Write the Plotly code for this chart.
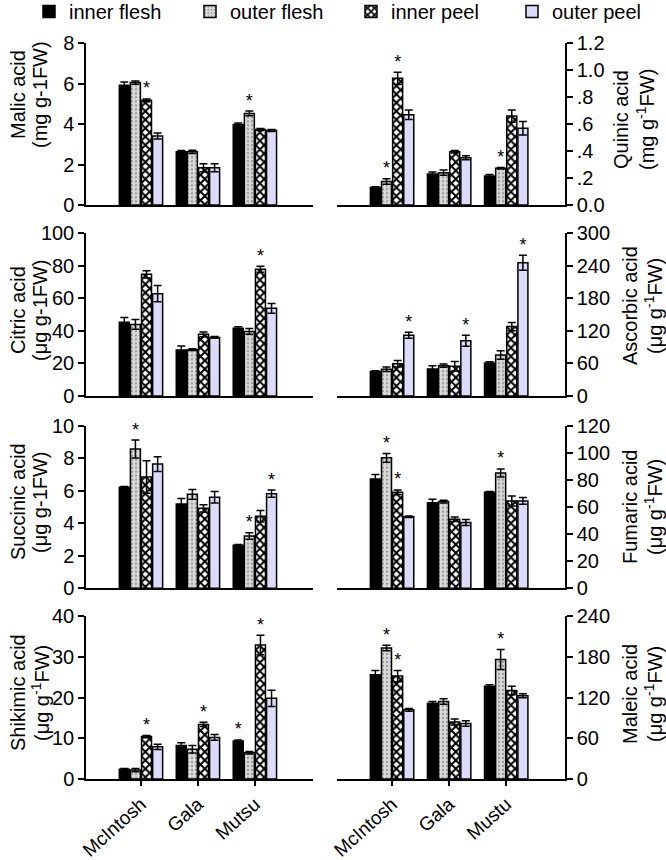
import plotly.graph_objects as go

series = ["inner flesh", "outer flesh", "inner peel", "outer peel"]
cult_left = ["McIntosh", "Gala", "Mutsu"]
cult_right = ["McIntosh", "Gala", "Mustu"]

# values: one row per series (inner flesh, outer flesh, inner peel, outer peel), columns = cultivars
malic_vals = [[5.93, 2.63, 3.98], [6.06, 2.63, 4.53], [5.18, 1.84, 3.73], [3.41, 1.84, 3.69]]
malic_err = [[0.15, 0.07, 0.08], [0.08, 0.08, 0.12], [0.07, 0.2, 0.05], [0.15, 0.2, 0.05]]
malic_star = [[0, 0, 0], [0, 0, 1], [1, 0, 0], [0, 0, 0]]

quinic_vals = [[0.13, 0.23, 0.216], [0.174, 0.24, 0.273], [0.94, 0.395, 0.66], [0.67, 0.35, 0.57]]
quinic_err = [[0.005, 0.015, 0.01], [0.02, 0.02, 0.005], [0.045, 0.01, 0.045], [0.035, 0.015, 0.05]]
quinic_star = [[0, 0, 0], [1, 0, 1], [1, 0, 0], [0, 0, 0]]

citric_vals = [[45.3, 28.3, 41.6], [44.0, 28.5, 39.7], [74.8, 37.9, 77.9], [62.9, 36.0, 53.9]]
citric_err = [[3, 2.4, 1], [3, 0.5, 1.8], [2.2, 1.5, 1.8], [5, 0.5, 3]]
citric_star = [[0, 0, 0], [0, 0, 0], [0, 0, 1], [0, 0, 0]]

ascorbic_vals = [[45, 50, 61], [49.4, 56, 75.6], [59.4, 55, 128], [111.9, 101.9, 245.6]]
ascorbic_err = [[1.5, 5.6, 2], [4, 3, 8], [6, 8.7, 7.5], [5.6, 10, 13.7]]
ascorbic_star = [[0, 0, 0], [0, 0, 0], [0, 0, 0], [1, 1, 1]]

succinic_vals = [[6.21, 5.18, 2.64], [8.57, 5.78, 3.22], [6.84, 4.92, 4.43], [7.64, 5.6, 5.82]]
succinic_err = [[0.05, 0.35, 0.05], [0.55, 0.3, 0.2], [1.0, 0.22, 0.35], [0.45, 0.35, 0.22]]
succinic_star = [[0, 0, 0], [1, 0, 1], [0, 0, 0], [0, 0, 1]]

fumaric_vals = [[80.7, 63.2, 70.9], [96.3, 64.0, 85.1], [70.9, 51.0, 64.5], [52.8, 48.5, 64.5]]
fumaric_err = [[3.2, 2.5, 0.5], [3.2, 1, 3], [1.7, 1.7, 3.7], [0.5, 2.2, 2.5]]
fumaric_star = [[0, 0, 0], [1, 0, 1], [1, 0, 0], [0, 0, 0]]

shikimic_vals = [[2.37, 8.2, 9.3], [2.2, 7.3, 6.46], [10.4, 13.4, 32.9], [7.9, 10.2, 19.8]]
shikimic_err = [[0.2, 0.7, 0.3], [0.4, 0.9, 0.3], [0.3, 0.5, 2.4], [0.65, 0.7, 2]]
shikimic_star = [[0, 0, 1], [0, 0, 0], [1, 1, 1], [0, 0, 0]]

maleic_vals = [[153.5, 111.7, 136.7], [192.8, 114, 176], [151.5, 84, 130.3], [101.8, 81.6, 122.5]]
maleic_err = [[6.4, 2.5, 2], [4, 4, 14.8], [8.4, 4.4, 6.4], [2, 4, 3]]
maleic_star = [[0, 0, 0], [1, 0, 1], [1, 0, 0], [0, 0, 0]]

# axis tick values / labels
malic_ticks = [0, 2, 4, 6, 8]
quinic_ticks = [0, 0.2, 0.4, 0.6, 0.8, 1.0, 1.2]
quinic_ticktext = ["0.0", ".2", ".4", ".6", ".8", "1.0", "1.2"]
citric_ticks = [0, 20, 40, 60, 80, 100]
ascorbic_ticks = [0, 60, 120, 180, 240, 300]
succinic_ticks = [0, 2, 4, 6, 8, 10]
fumaric_ticks = [0, 20, 40, 60, 80, 100, 120]
shikimic_ticks = [0, 10, 20, 30, 40]
maleic_ticks = [0, 60, 120, 180, 240]

panels = [
    # (vals, err, star, ticks, ticktext, title lines, column)
    (malic_vals, malic_err, malic_star, malic_ticks, None, ("Malic acid", "(mg g-1FW)"), 0),
    (quinic_vals, quinic_err, quinic_star, quinic_ticks, quinic_ticktext, ("Quinic acid", "(mg g<sup>-1</sup>FW)"), 1),
    (citric_vals, citric_err, citric_star, citric_ticks, None, ("Citric acid", "(μg g-1FW)"), 0),
    (ascorbic_vals, ascorbic_err, ascorbic_star, ascorbic_ticks, None, ("Ascorbic acid", "(μg g<sup>-1</sup>FW)"), 1),
    (succinic_vals, succinic_err, succinic_star, succinic_ticks, None, ("Succinic acid", "(μg g-1FW)"), 0),
    (fumaric_vals, fumaric_err, fumaric_star, fumaric_ticks, None, ("Fumaric acid", "(μg g<sup>-1</sup>FW)"), 1),
    (shikimic_vals, shikimic_err, shikimic_star, shikimic_ticks, None, ("Shikimic acid", "(μg g<sup>-1</sup>FW)"), 0),
    (maleic_vals, maleic_err, maleic_star, maleic_ticks, None, ("Maleic acid", "(μg g<sup>-1</sup>FW)"), 1),
]

FONT = "Arial, Liberation Sans, sans-serif"
W, H = 666, 860


def px_x(p):
    return p / W


def px_y(p):
    return 1 - p / H


styles = [
    dict(color="black", pattern=None),
    dict(color="#d6d6d6", pattern=dict(shape=".", fgcolor="#9a9a9a", bgcolor="#dadada", size=4, solidity=0.25)),
    dict(color="black", pattern=dict(shape="x", fgcolor="black", bgcolor="white", size=6, solidity=0.55)),
    dict(color="#dcdcfa", pattern=None),
]

# pixel layout of the plot areas
col_x = [(86, 313), (337, 565)]
row_y = [(43.3, 205), (233.3, 396), (425.7, 588.3), (616, 779)]
x_ranges = [[-0.965, 3.02], [-0.965, 3.03]]
# title line positions (px): x of line 1 / line 2, vertical centre
title_x = {0: (18, 40), 1: (630, 653)}
title_x_quinic = (621, 645)
title_yc = [95, 120, 310, 306, 502, 507, 693, 694]

fig = go.Figure()
layout = {}
annotations = []

for k, (vals, err, star, ticks, ticktext, title, col) in enumerate(panels):
    row = k // 2
    idx = k + 1
    xa = "x" if idx == 1 else f"x{idx}"
    ya = "y" if idx == 1 else f"y{idx}"
    cats = cult_left if col == 0 else cult_right
    for s, name in enumerate(series):
        st = styles[s]
        marker = dict(color=st["color"], line=dict(color="black", width=1.5))
        if st["pattern"] is not None:
            marker["pattern"] = st["pattern"]
        fig.add_trace(go.Bar(
            x=cats, y=vals[s], name=name, marker=marker,
            error_y=dict(type="data", array=err[s], color="black", thickness=1.5, width=4),
            xaxis=xa, yaxis=ya, offsetgroup=name, showlegend=(k == 0),
            legendgroup=name,
        ))
    for s, name in enumerate(series):
        ys = [vals[s][i] + err[s][i] if star[s][i] else None for i in range(3)]
        fig.add_trace(go.Scatter(
            x=cats, y=ys, mode="text", text=["*"] * 3, textposition="top center",
            textfont=dict(size=18, color="black", family=FONT),
            orientation="v", offsetgroup=name, xaxis=xa, yaxis=ya,
            showlegend=False, hoverinfo="skip", cliponaxis=False,
        ))
    x0, x1 = col_x[col]
    y0, y1 = row_y[row]
    bottom = row == 3
    layout["xaxis" if idx == 1 else f"xaxis{idx}"] = dict(
        domain=[px_x(x0), px_x(x1)], anchor=ya, type="category",
        range=x_ranges[col], showline=True, linecolor="black", linewidth=1.5,
        showgrid=False, zeroline=False, automargin=False,
        ticks="outside" if bottom else "", ticklen=5, tickwidth=1.5, tickcolor="black",
        showticklabels=bottom, tickangle=-42,
        tickfont=dict(size=19, color="black", family=FONT),
    )
    ydict = dict(
        domain=[px_y(y1), px_y(y0)], anchor=xa, range=[0, ticks[-1]],
        side="left" if col == 0 else "right",
        showline=True, linecolor="black", linewidth=1.5,
        showgrid=False, zeroline=False, automargin=False,
        ticks="outside", ticklen=6, tickwidth=1.5, tickcolor="black",
        tickvals=ticks,
        tickfont=dict(size=20, color="black", family=FONT),
    )
    if ticktext is not None:
        ydict["ticktext"] = ticktext
    layout["yaxis" if idx == 1 else f"yaxis{idx}"] = ydict
    # y-axis titles (two rotated lines)
    tx = title_x_quinic if k == 1 else title_x[col]
    for line, xpx in zip(title, tx):
        annotations.append(dict(
            text=line, textangle=-90, x=px_x(xpx), y=px_y(title_yc[k]),
            xref="paper", yref="paper", xanchor="center", yanchor="middle",
            showarrow=False, font=dict(size=20, color="black", family=FONT),
        ))

fig.update_layout(
    template="none",
    width=W, height=H,
    margin=dict(l=0, r=0, t=0, b=0, pad=0, autoexpand=False),
    paper_bgcolor="white", plot_bgcolor="white",
    barmode="group", bargap=0.22, bargroupgap=0.1,
    scattermode="group",
    font=dict(family=FONT, color="black", size=20),
    legend=dict(orientation="h", x=px_x(29), y=px_y(-8), xanchor="left", yanchor="top",
                font=dict(size=20, family=FONT, color="black"),
                entrywidth=116, entrywidthmode="pixels",
                bgcolor="rgba(0,0,0,0)", tracegroupgap=0, itemclick=False),
    annotations=annotations,
    **layout,
)

# remove the browser's default 8px body margin so the figure fills the window
fig.write_html("out.html", config={"displayModeBar": False},
               post_script="document.body.style.margin='0px';")
